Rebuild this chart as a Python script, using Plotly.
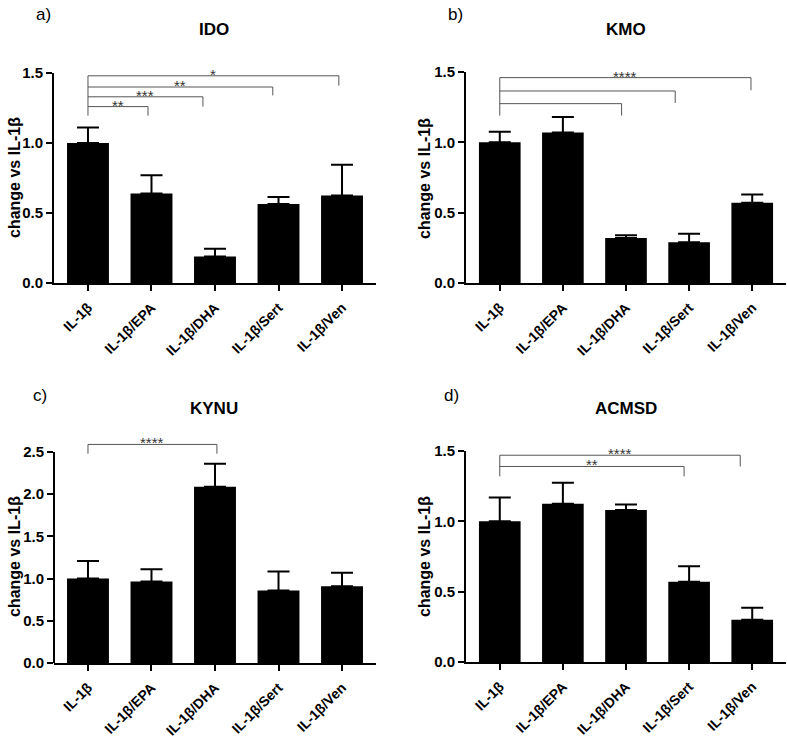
import plotly.graph_objects as go

# ---------------- data ----------------
categories = ["IL-1β", "IL-1β/EPA", "IL-1β/DHA", "IL-1β/Sert", "IL-1β/Ven"]
titles = ["IDO", "KMO", "KYNU", "ACMSD"]
panel_labels = ["a)", "b)", "c)", "d)"]
y_axis_title = "change vs IL-1β"

ido_mean = [1.00, 0.64, 0.19, 0.565, 0.625]
ido_sem = [0.11, 0.13, 0.055, 0.05, 0.22]

kmo_mean = [1.00, 1.07, 0.32, 0.29, 0.57]
kmo_sem = [0.075, 0.11, 0.02, 0.06, 0.06]

kynu_mean = [1.00, 0.965, 2.09, 0.86, 0.91]
kynu_sem = [0.21, 0.145, 0.27, 0.225, 0.16]

acmsd_mean = [1.00, 1.125, 1.08, 0.57, 0.30]
acmsd_sem = [0.17, 0.15, 0.04, 0.11, 0.085]

# significance comparisons vs IL-1β: (target category, label)
ido_sig = [("IL-1β/EPA", "**"), ("IL-1β/DHA", "***"), ("IL-1β/Sert", "**"), ("IL-1β/Ven", "*")]
kmo_sig = [("IL-1β/DHA", ""), ("IL-1β/Sert", ""), ("IL-1β/Ven", "****")]
kynu_sig = [("IL-1β/DHA", "****")]
acmsd_sig = [("IL-1β/Sert", "**"), ("IL-1β/Ven", "****")]

means = [ido_mean, kmo_mean, kynu_mean, acmsd_mean]
sems = [ido_sem, kmo_sem, kynu_sem, acmsd_sem]
sigs = [ido_sig, kmo_sig, kynu_sig, acmsd_sig]

# ---------------- layout / style ----------------
W, H = 787, 741
FONT = "Arial, 'Liberation Sans', sans-serif"
xr = [-0.535, 4.535]
# per panel: x domain, y domain, y range top, top tick, bracket geometry
panels = [
    dict(xd=[54 / W, 376 / W], yd=[1 - 283 / H, 1 - 73 / H], ytop=1.5, ymaxtick=1.5,
         br=[(0.945, 1.26, 1.195), (1.81, 1.33, 1.26), (2.91, 1.40, 1.34), (3.95, 1.48, 1.41)],
         lbl=(43, 15), ttl=(214, 29), yt=(14, 178)),
    dict(xd=[466 / W, 786 / W], yd=[1 - 283 / H, 1 - 72 / H], ytop=1.5, ymaxtick=1.5,
         br=[(1.93, 1.275, 1.19), (2.78, 1.365, 1.28), (3.98, 1.46, 1.37)],
         lbl=(455, 15), ttl=(626, 29), yt=(424, 178)),
    dict(xd=[54 / W, 376 / W], yd=[1 - 663 / H, 1 - 441.9 / H], ytop=2.62, ymaxtick=2.5,
         br=[(2.03, 2.59, 2.48)],
         lbl=(40, 395), ttl=(214, 408), yt=(14, 557)),
    dict(xd=[466 / W, 786 / W], yd=[1 - 662 / H, 1 - 451 / H], ytop=1.5, ymaxtick=1.5,
         br=[(2.92, 1.39, 1.32), (3.81, 1.47, 1.39)],
         lbl=(451, 395), ttl=(626, 408), yt=(424, 556)),
]

fig = go.Figure()
shapes = []
annotations = []
BR_COLOR = "#555555"

for i, (p, m, s, sg) in enumerate(zip(panels, means, sems, sigs)):
    n = "" if i == 0 else str(i + 1)
    xa, ya = "x" + n, "y" + n
    fig.add_trace(go.Bar(
        x=categories, y=m, xaxis=xa, yaxis=ya,
        marker=dict(color="black", line=dict(width=0)),
        error_y=dict(type="data", array=s, arrayminus=[0] * len(s), symmetric=False,
                     color="black", thickness=2, width=11),
        showlegend=False, hoverinfo="skip",
    ))
    fig.layout["xaxis" + n] = dict(
        domain=p["xd"], anchor=ya, range=xr, type="category", automargin=False,
        categoryorder="array", categoryarray=categories,
        showline=True, linecolor="black", linewidth=2,
        ticks="outside", ticklen=6, tickwidth=2, tickcolor="black",
        tickangle=-45, showgrid=False, zeroline=False, ticklabelstandoff=3,
        tickfont=dict(family=FONT, size=14, color="black", weight="bold"),
    )
    fig.layout["yaxis" + n] = dict(
        domain=p["yd"], anchor=xa, range=[0, p["ytop"]], automargin=False,
        tickmode="linear", tick0=0, dtick=0.5, tickformat=".1f",
        showline=(p["ytop"] == p["ymaxtick"]), linecolor="black", linewidth=2,
        ticks="outside", ticklen=6, tickwidth=2, tickcolor="black",
        showgrid=False, zeroline=False,
        tickfont=dict(family=FONT, size=15, color="black", weight="bold"),
    )
    if p["ytop"] != p["ymaxtick"]:
        shapes.append(dict(type="line", xref=xa + " domain", yref=ya + " domain",
                           x0=0, x1=0, y0=0, y1=p["ymaxtick"] / p["ytop"],
                           line=dict(color="black", width=2)))
    # significance brackets
    left_bottom = min(b[2] for b in p["br"])
    left_top = max(b[1] for b in p["br"])
    shapes.append(dict(type="line", xref=xa, yref=ya, x0=0, x1=0,
                       y0=left_bottom, y1=left_top,
                       line=dict(color=BR_COLOR, width=1)))
    for (target, label), (xend, lev, drop) in zip(sg, p["br"]):
        shapes.append(dict(type="line", xref=xa, yref=ya, x0=0, x1=xend,
                           y0=lev, y1=lev, line=dict(color=BR_COLOR, width=1)))
        shapes.append(dict(type="line", xref=xa, yref=ya, x0=xend, x1=xend,
                           y0=drop, y1=lev, line=dict(color=BR_COLOR, width=1)))
        if label:
            annotations.append(dict(text=label, xref=xa, yref=ya, x=xend / 2, y=lev,
                                    xanchor="center", yanchor="bottom", yshift=-9,
                                    showarrow=False,
                                    font=dict(family=FONT, size=15, color="#333333")))
    # title, panel label, y title
    annotations.append(dict(text="<b>%s</b>" % titles[i], xref="paper", yref="paper",
                            x=p["ttl"][0] / W, y=1 - p["ttl"][1] / H,
                            xanchor="center", yanchor="middle", showarrow=False,
                            font=dict(family=FONT, size=17, color="black")))
    annotations.append(dict(text=panel_labels[i], xref="paper", yref="paper",
                            x=p["lbl"][0] / W, y=1 - p["lbl"][1] / H,
                            xanchor="center", yanchor="middle", showarrow=False,
                            font=dict(family=FONT, size=17, color="black")))
    annotations.append(dict(text="<b>%s</b>" % y_axis_title, xref="paper", yref="paper",
                            x=p["yt"][0] / W, y=1 - p["yt"][1] / H, textangle=-90,
                            xanchor="center", yanchor="middle", showarrow=False,
                            font=dict(family=FONT, size=16, color="black")))

fig.update_layout(
    width=W, height=H, margin=dict(l=0, r=0, t=0, b=0),
    paper_bgcolor="white", plot_bgcolor="white",
    bargap=0.34, shapes=shapes, annotations=annotations,
)

fig.write_html("out.html", config={"displayModeBar": False},
               post_script="document.body.style.margin='0';document.body.style.overflow='hidden';")
